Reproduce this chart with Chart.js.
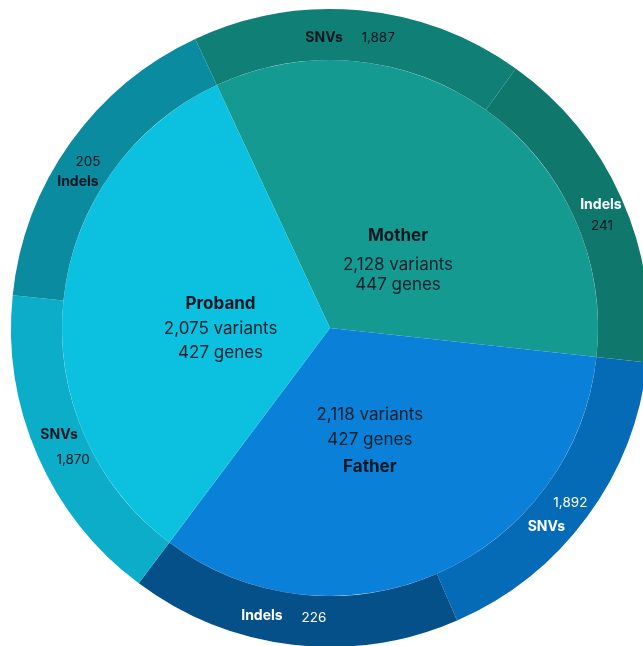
<!DOCTYPE html>
<html>
<head>
<meta charset="utf-8">
<script src="https://cdn.jsdelivr.net/npm/chart.js@4"></script>
<style>
  html, body { margin: 0; padding: 0; overflow: hidden; background: #fff; }
  #wrap { width: 660px; height: 656px; }
</style>
</head>
<body>
<div id="wrap"><canvas id="variant-chart" width="660" height="656"></canvas></div>
<script>
// family members and their variant counts
var members = ['Mother', 'Father', 'Proband'];
var variants = [2128, 2118, 2075];
var genes = [447, 427, 427];
var snvs = [1887, 1892, 1870];
var indels = [241, 226, 205];

var memberColors = ['#149a91', '#0a80d8', '#0cc0e0'];
var snvColors = ['#108077', '#066bb6', '#0cadc8'];
var indelColors = ['#10776d', '#06508a', '#0a8ba0'];

// outer ring: each member's arc is split evenly between SNVs and indels
var outerData = [], outerColors = [], outerLabels = [];
members.forEach(function (m, i) {
    outerData.push(variants[i] / 2, variants[i] / 2);
    outerColors.push(snvColors[i], indelColors[i]);
    outerLabels.push({ name: 'SNVs', value: snvs[i] }, { name: 'Indels', value: indels[i] });
});

var dark = '#0b1620';
var fmt = function (n) { return n.toLocaleString('en-US'); };

// label placement relative to each arc's centre
var innerNudge = [[4, 23], [-4, 12], [0, 13]];
var innerOffs = [[-26, 3, 23], [-26, -1, 26], [-26, -1, 23]];
var nameFirst = [true, false, true];
var outerPlace = [
    { name: [-33, 2], value: [21, 2], nameColor: dark, valueColor: dark },
    { name: [3, -3], value: [4, 18], nameColor: '#ffffff', valueColor: dark },
    { name: [-20, 25], value: [4, 1], nameColor: '#ffffff', valueColor: '#ffffff' },
    { name: [-34, -4], value: [18, -2], nameColor: '#ffffff', valueColor: '#ffffff' },
    { name: [-2, -11], value: [12, 14], nameColor: dark, valueColor: dark },
    { name: [-13, 24], value: [-3, 4], nameColor: dark, valueColor: dark }
];

function centre(arc, r) {
    var mid = (arc.startAngle + arc.endAngle) / 2;
    return [arc.x + Math.cos(mid) * r, arc.y + Math.sin(mid) * r];
}

var arcLabels = {
    id: 'arcLabels',
    afterDatasetsDraw: function (chart) {
        var ctx = chart.ctx;
        ctx.save();
        ctx.textAlign = 'center';
        ctx.textBaseline = 'middle';

        var inner = chart.getDatasetMeta(1).data;
        inner.forEach(function (arc, i) {
            var p = centre(arc, 110);
            var x = p[0] + innerNudge[i][0], y = p[1] + innerNudge[i][1];
            var lines = [
                { t: fmt(variants[i]) + ' variants', bold: false },
                { t: genes[i] + ' genes', bold: false }
            ];
            var title = { t: members[i], bold: true };
            if (nameFirst[i]) lines.unshift(title); else lines.push(title);
            lines.forEach(function (l, k) {
                ctx.font = (l.bold ? '700 ' : '400 ') + '17px Inter, "Noto Sans", sans-serif';
                ctx.fillStyle = l.bold ? dark : '#12202b';
                ctx.fillText(l.t, x, y + innerOffs[i][k]);
            });
        });

        var outer = chart.getDatasetMeta(0).data;
        outer.forEach(function (arc, i) {
            var p = centre(arc, (arc.innerRadius + arc.outerRadius) / 2);
            var pl = outerPlace[i];
            ctx.font = '700 14px Inter, "Noto Sans", sans-serif';
            ctx.fillStyle = pl.nameColor;
            ctx.fillText(outerLabels[i].name, p[0] + pl.name[0], p[1] + pl.name[1]);
            ctx.font = '400 13.5px Inter, "Noto Sans", sans-serif';
            ctx.fillStyle = pl.valueColor;
            ctx.fillText(fmt(outerLabels[i].value), p[0] + pl.value[0], p[1] + pl.value[1]);
        });
        ctx.restore();
    }
};

var ctx = document.getElementById('variant-chart').getContext('2d');
var myChart = new Chart(ctx, {
    type: 'pie',
    data: {
        labels: outerLabels.map(function (l) { return l.name; }),
        datasets: [{
            data: outerData,
            backgroundColor: outerColors,
            borderWidth: 0,
            weight: 51
        }, {
            data: variants,
            backgroundColor: memberColors,
            borderWidth: 0,
            weight: 268
        }]
    },
    options: {
        responsive: false,
        animation: false,
        events: [],
        rotation: -25,
        layout: { padding: { left: 11, right: 11, top: 9, bottom: 9 } },
        plugins: {
            legend: { display: false },
            tooltip: { enabled: false }
        }
    },
    plugins: [arcLabels]
});
</script>
</body>
</html>
